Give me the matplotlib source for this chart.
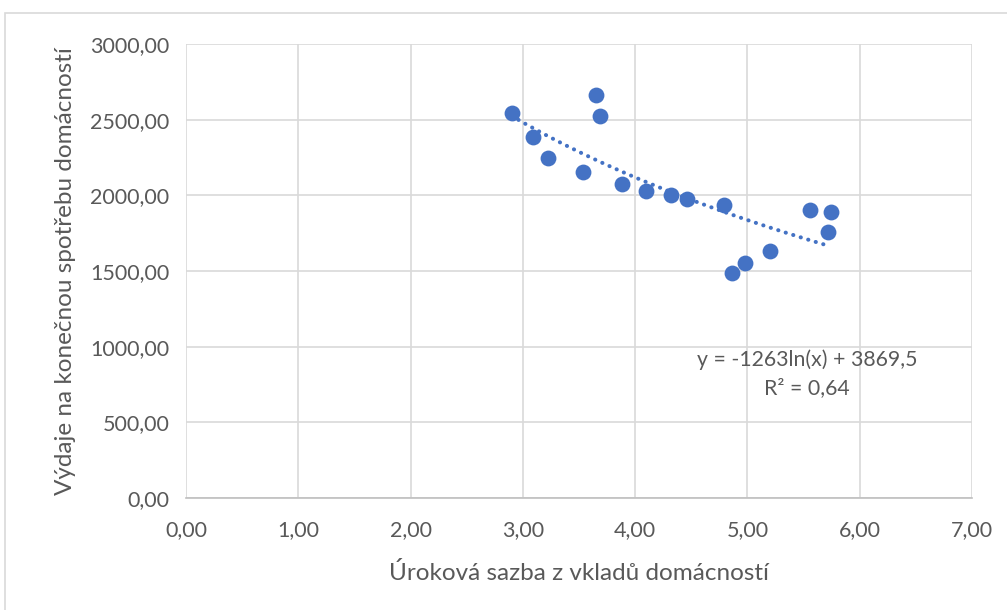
import numpy as np
import matplotlib.pyplot as plt
from matplotlib.patches import Rectangle

# data
sazba = [2.90, 3.09, 3.22, 3.54, 3.65, 3.69, 3.88, 4.10, 4.32, 4.46,
         4.79, 4.86, 4.98, 5.20, 5.56, 5.72, 5.74]
vydaje = [2545, 2385, 2245, 2155, 2665, 2525, 2075, 2030, 2000, 1975,
          1935, 1485, 1550, 1635, 1900, 1755, 1890]

# trend coefficients as printed in the chart
trend_a = -1263
trend_b = 3869.5

plt.rcParams["font.family"] = ["Lato", "DejaVu Sans"]
gray = "#595959"

fig = plt.figure(figsize=(10.07, 6.10), dpi=100)
fig.patches.append(Rectangle((5 / 1007, -0.01), 1.02, 1 - 13 / 610 + 0.01,
                             transform=fig.transFigure, fill=False,
                             edgecolor="#D9D9D9", linewidth=1.2))

ax = fig.add_axes([186 / 1007, 1 - 498 / 610, (972 - 186) / 1007, (498 - 44) / 610])

ax.scatter(sazba, vydaje, s=130, color="#4472C4", zorder=3, linewidths=0)

xs = np.linspace(min(sazba), max(sazba), 200)
ax.plot(xs, trend_a * np.log(xs) + trend_b, color="#4472C4", linewidth=2.9,
        linestyle=(0, (0.05, 1.9)), dash_capstyle="round", zorder=2)

ax.text(5.53, 912, "y = -1263ln(x) + 3869,5", ha="center", va="center",
        fontsize=15.3, color=gray)
ax.text(5.53, 727, "R² = 0,64", ha="center", va="center",
        fontsize=15.3, color=gray)

ax.set_xlim(0, 7)
ax.set_ylim(0, 3000)
ax.set_xticks(np.arange(0, 8, 1))
ax.set_yticks(np.arange(0, 3001, 500))
ax.set_xticklabels([f"{v:.2f}".replace(".", ",") for v in np.arange(0, 8, 1)])
ax.set_yticklabels([f"{v:.2f}".replace(".", ",") for v in np.arange(0, 3001, 500)])
ax.grid(True, color="#D9D9D9", linewidth=1.2)
ax.set_axisbelow(True)
for s in ["top", "right", "left"]:
    ax.spines[s].set_visible(False)
ax.spines["bottom"].set_color("#BFBFBF")
ax.spines["bottom"].set_linewidth(1.2)
ax.tick_params(length=0, labelsize=15.5, colors=gray)
ax.tick_params(axis="x", pad=16)
ax.tick_params(axis="y", pad=12)

ax.set_xlabel("Úroková sazba z vkladů domácností", fontsize=17.5, color=gray,
              labelpad=16)
ax.set_ylabel("Výdaje na konečnou spotřebu domácností", fontsize=17.5,
              color=gray, labelpad=10)

fig.savefig("out.png", dpi=100)
